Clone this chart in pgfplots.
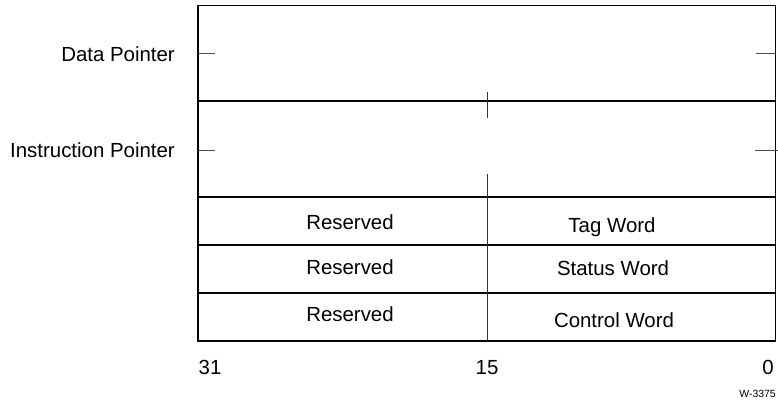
\documentclass[border=0pt]{standalone}
\usepackage{pgfplots}
\pgfplotsset{compat=1.18}
\usepackage{fontspec}
\setmainfont{Liberation Sans}
\begin{document}
\begin{tikzpicture}
\begin{axis}[
  scale only axis, width=778bp, height=405bp,
  xmin=0, xmax=778, ymin=0, ymax=405, y dir=reverse,
  hide axis, clip=false,
]
% outer frame
\addplot[black, line width=1.3bp, mark=none] coordinates {(198,5.5) (775.5,5.5) (775.5,341) (198,341) (198,5.5)};
% row separators
\addplot[black, line width=1.1bp, mark=none] coordinates {(198,101) (775.5,101)};
\addplot[black, line width=1.1bp, mark=none] coordinates {(198,197) (775.5,197)};
\addplot[black, line width=1.1bp, mark=none] coordinates {(198,245) (775.5,245)};
\addplot[black, line width=1.1bp, mark=none] coordinates {(198,293) (775.5,293)};
% middle divider
\addplot[black!80, line width=1bp, mark=none] coordinates {(487.5,92) (487.5,118)};
\addplot[black!80, line width=1bp, mark=none] coordinates {(487.5,174) (487.5,341)};
% side ticks
\addplot[black!70, line width=1bp, mark=none] coordinates {(198,54) (215,54)};
\addplot[black!70, line width=1bp, mark=none] coordinates {(756,54) (776,54)};
\addplot[black!70, line width=1bp, mark=none] coordinates {(198,150) (215,150)};
\addplot[black!70, line width=1bp, mark=none] coordinates {(755,150) (777.5,150)};
% labels
\begin{scope}[every node/.style={inner sep=0pt, font=\fontsize{20.5}{24}\selectfont}]
\node[anchor=base east] at (axis cs:175,61) {Data Pointer};
\node[anchor=base east] at (axis cs:175,157) {Instruction Pointer};
\node[anchor=base] at (axis cs:350,229.5) {Reserved};
\node[anchor=base] at (axis cs:612,232) {Tag Word};
\node[anchor=base] at (axis cs:350,274.5) {Reserved};
\node[anchor=base] at (axis cs:613,275) {Status Word};
\node[anchor=base] at (axis cs:350,321) {Reserved};
\node[anchor=base] at (axis cs:614,327) {Control Word};
\node[anchor=base] at (axis cs:210,374) {31};
\node[anchor=base] at (axis cs:487,374) {15};
\node[anchor=base] at (axis cs:768,374) {0};
\end{scope}
\node[anchor=base east, inner sep=0pt, font=\fontsize{10.5}{12}\selectfont] at (axis cs:776,397) {W-3375};
\end{axis}
\path (current axis.south west) rectangle (current axis.north east);
\end{tikzpicture}
\end{document}
